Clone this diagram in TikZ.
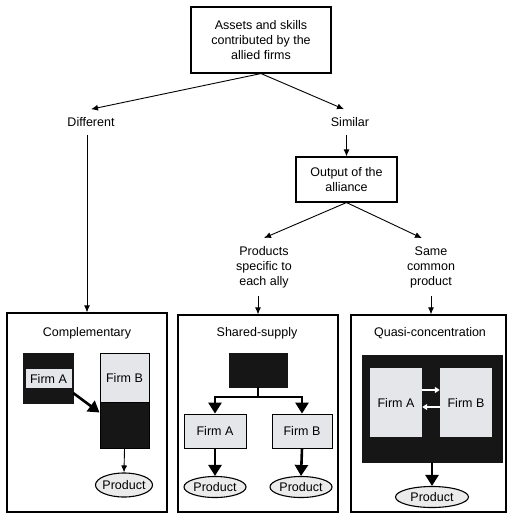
\documentclass[tikz,border=0pt]{standalone}
\usepackage{fontspec}
\setmainfont{Liberation Sans}
\usetikzlibrary{arrows.meta,shapes.geometric}
\definecolor{lightfill}{HTML}{E4E6E9}
\definecolor{ellfill}{HTML}{EBEBEB}
\definecolor{darkfill}{HTML}{161616}
\tikzset{
  lbl/.style={font=\fontsize{12.5}{15}\selectfont, align=center, inner sep=0pt},
  lblsep/.style={lbl, inner sep=8pt},
  outlinebox/.style={draw, line width=1.1pt, inner sep=0pt},
  panel/.style={draw, line width=1.2pt, fill=white, inner sep=0pt},
  thinarr/.style={line width=0.9pt, -{Latex[length=7pt,width=6pt]}},
  heavyarr/.style={line width=2.6pt, -{Triangle[length=11pt,width=13pt]}},
  heavyline/.style={line width=2.6pt},
  whitearr/.style={draw=white, line width=1.6pt, -{Triangle[length=5pt,width=6pt]}},
  blackblock/.style={fill=darkfill, draw=darkfill, inner sep=0pt},
  lightblock/.style={fill=lightfill, draw=black, line width=0.8pt, inner sep=0pt},
  plainlight/.style={fill=lightfill, inner sep=0pt},
  prodell/.style={ellipse, draw, line width=1.1pt, fill=ellfill, inner sep=0pt,
                  label={[lbl]center:Product}},
}
\begin{document}
\begin{tikzpicture}[x=1pt,y=-1pt]
\useasboundingbox (0,0) rectangle (509,518);

% top part
\node[outlinebox, lbl, minimum width=140pt, minimum height=66pt] (assets) at (261,40)
  {Assets and skills\\contributed by the\\allied firms};
\node[lblsep] (diff) at (91,122) {Different};
\node[lblsep] (sim) at (350,122) {Similar};
\node[outlinebox, lbl, minimum width=101pt, minimum height=45pt] (output) at (346.5,179.5)
  {Output of the\\alliance};
\node[lblsep] (spec) at (264,267) {Products\\specific to\\each ally};
\node[lblsep] (same) at (431,267) {Same\\common\\product};

% panels
\node[panel, minimum width=160pt, minimum height=199pt] (comp) at (87,412.5) {};
\node[panel, minimum width=160pt, minimum height=197pt] (shared) at (258,413.5) {};
\node[panel, minimum width=155pt, minimum height=197pt] (quasi) at (428.5,413.5) {};

\node[lbl] (compt) at (87,333) {Complementary};
\node[lbl] (sharedt) at (257,333) {Shared-supply};
\node[lbl] (quasit) at (430,333) {Quasi-concentration};

% top connectors
\draw[thinarr] (assets.south) -- (diff.north);
\draw[thinarr] (assets.south) -- ([xshift=-6pt]sim.north);
\draw[thinarr] (output.north |- sim.south) -- (output.north);
\draw[thinarr] (output.south) -- (spec.north);
\draw[thinarr] (output.south) -- ([xshift=-9pt]same.north);
\draw[thinarr] (comp.north |- diff.south) -- (comp.north);
\draw[thinarr] (shared.north |- spec.south) -- (shared.north);
\draw[thinarr] (same.south) -- (same.south |- quasi.north);

% complementary
\node[blackblock, minimum width=50pt, minimum height=50pt] (ablk) at (48,378) {};
\node[plainlight, lbl, minimum width=46pt, minimum height=19pt] (cfa) at (48.5,378.5) {Firm A};
\node[draw, line width=1pt, fill=darkfill, inner sep=0pt, minimum width=49pt, minimum height=95pt] (bout) at (124.5,400.5) {};
\node[lightblock, lbl, line width=1pt, minimum width=49pt, minimum height=49pt] (cfb) at (124.5,377.5) {Firm B};
\draw[heavyarr] ([yshift=-15pt]ablk.east) -- ([yshift=-12pt]bout.west);
\node[prodell, minimum width=57pt, minimum height=24pt] (cprod) at (124,485) {};
\draw[thinarr] (bout.south) -- (cprod.north);

% shared-supply
\node[blackblock, minimum width=58pt, minimum height=34pt] (sblk) at (258,370) {};
\node[lightblock, lbl, minimum width=62pt, minimum height=34pt] (sfa) at (215,431) {Firm A};
\node[lightblock, lbl, minimum width=60pt, minimum height=34pt] (sfb) at (302,431) {Firm B};
\coordinate (split) at (258,397);
\draw[heavyline] (sblk.south) -- (split);
\draw[heavyarr] (split) -| (sfa.north);
\draw[heavyarr] (split) -| (sfb.north);
\node[prodell, minimum width=62pt, minimum height=21pt] (sprodA) at (215,487) {};
\node[prodell, minimum width=62pt, minimum height=21pt] (sprodB) at (301,487) {};
\draw[heavyarr] (sfa.south) -- (sprodA.north);
\draw[heavyarr] (sfb.south) -- (sprodB.north);

% quasi-concentration
\node[blackblock, minimum width=140pt, minimum height=107pt] (qblk) at (432,408.5) {};
\node[plainlight, lbl, minimum width=52pt, minimum height=69pt] (qfa) at (396,402.5) {Firm A};
\node[plainlight, lbl, minimum width=52pt, minimum height=69pt] (qfb) at (466,402.5) {Firm B};
\draw[whitearr] ([yshift=12.5pt]qfa.east) -- ([yshift=12.5pt]qfb.west);
\draw[whitearr] ([yshift=-4.5pt]qfb.west) -- ([yshift=-4.5pt]qfa.east);
\node[prodell, minimum width=73pt, minimum height=21pt] (qprod) at (432,497) {};
\draw[heavyarr] (qblk.south) -- (qprod.north);
\end{tikzpicture}
\end{document}
